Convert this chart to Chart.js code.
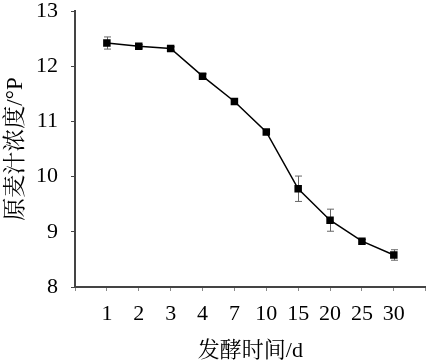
<!DOCTYPE html>
<html>
<head>
<meta charset="utf-8">
<script src="https://cdn.jsdelivr.net/npm/chart.js@4"></script>
<style>
html,body{margin:0;padding:0;background:#fff;}
#wrap{width:431px;height:364px;}
</style>
</head>
<body>
<div id="wrap"><canvas id="c" width="431" height="364"></canvas></div>
<script>
const categories = ['1','2','3','4','7','10','15','20','25','30'];
const wortValues = [12.42, 12.36, 12.32, 11.82, 11.36, 10.81, 9.78, 9.21, 8.83, 8.58];
const wortErrors = [0.11, 0.03, 0.03, 0.04, 0.04, 0.04, 0.23, 0.20, 0.03, 0.095];
const yTickLabels = ['8','9','10','11','12','13'];

const serif = "'Liberation Serif','Times New Roman',serif";
const cjk = "'Liberation Serif','Noto Serif CJK SC','Noto Sans CJK SC',serif";

const errorBars = {
  id: 'errorBars',
  beforeDatasetsDraw(chart) {
    const ctx = chart.ctx;
    const xs = chart.scales.x, ys = chart.scales.y;
    ctx.save();
    ctx.strokeStyle = '#666';
    ctx.lineWidth = 1;
    wortValues.forEach((v, i) => {
      const e = wortErrors[i];
      const x = Math.round(xs.getPixelForValue(i + 1)) + 0.5;
      const yt = ys.getPixelForValue(v + e);
      const yb = ys.getPixelForValue(v - e);
      ctx.beginPath();
      ctx.moveTo(x, yt); ctx.lineTo(x, yb);
      ctx.moveTo(x - 3.5, yt); ctx.lineTo(x + 3.5, yt);
      ctx.moveTo(x - 3.5, yb); ctx.lineTo(x + 3.5, yb);
      ctx.stroke();
    });
    ctx.restore();
  }
};

new Chart(document.getElementById('c'), {
  type: 'line',
  data: {
    datasets: [{
      data: wortValues.map((v, i) => ({x: i + 1, y: v})),
      borderColor: '#000',
      borderWidth: 1.5,
      backgroundColor: '#000',
      pointStyle: 'rect',
      pointRadius: 5.3,
      pointBorderWidth: 0,
      pointBackgroundColor: '#000',
      tension: 0
    }]
  },
  options: {
    responsive: false,
    animation: false,
    layout: {padding: {top: 11, right: 1, left: 0, bottom: 0}},
    plugins: {legend: {display: false}, tooltip: {enabled: false}},
    scales: {
      x: {
        type: 'linear',
        min: 0, max: categories.length + 1,
        afterBuildTicks: (s) => { s.ticks = Array.from({length: categories.length + 2}, (_, i) => ({value: i})); },
        ticks: {
          autoSkip: false,
          maxRotation: 0,
          color: '#000',
          font: {family: serif, size: 22},
          padding: 10,
          callback: (v) => (v >= 1 && v <= categories.length) ? categories[v - 1] : ''
        },
        grid: {drawOnChartArea: false, drawTicks: true, tickLength: 4, color: '#888', lineWidth: 1},
        border: {color: '#444', width: 2},
        title: {display: true, text: '发酵时间/d', color: '#000', font: {family: cjk, size: 22}, padding: {top: 9, bottom: 0}},
        afterFit: (s) => { s.height = 77; s.paddingLeft = 0; s.paddingRight = 0; }
      },
      y: {
        min: 8, max: 13,
        afterBuildTicks: (s) => { const t = []; for (let v = 8; v <= 13.001; v += 0.5) t.push({value: v}); s.ticks = t; },
        ticks: {
          color: '#000',
          font: {family: serif, size: 22},
          padding: 13,
          callback: (v) => Number.isInteger(v) ? yTickLabels[v - 8] : ''
        },
        grid: {drawOnChartArea: false, drawTicks: true, tickLength: 4, color: '#444', lineWidth: 1},
        border: {color: '#444', width: 2},
        title: {display: true, text: '原麦汁浓度/°P', color: '#000', font: {family: cjk, size: 23}, padding: {top: 2, bottom: 4}},
        afterFit: (s) => { s.width = 75; s.paddingTop = 0; s.paddingBottom = 0; }
      }
    }
  },
  plugins: [errorBars]
});
</script>
</body>
</html>
